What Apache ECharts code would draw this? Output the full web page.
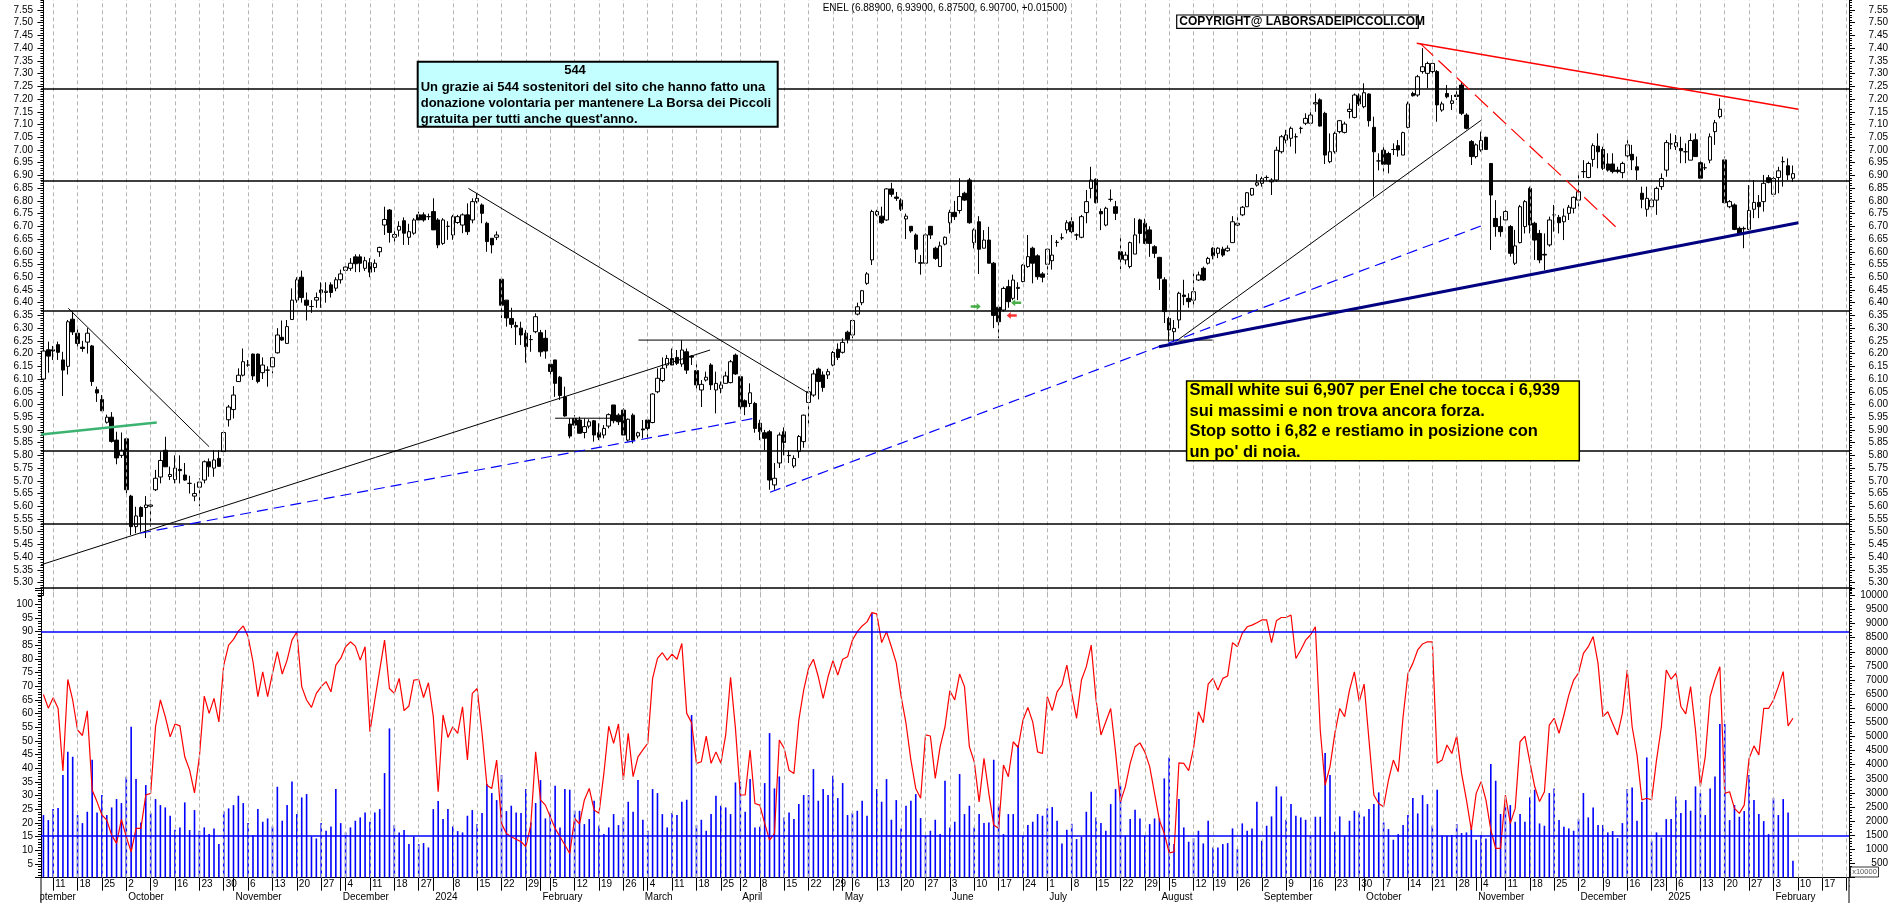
<!DOCTYPE html>
<html><head><meta charset="utf-8">
<script src="https://cdn.jsdelivr.net/npm/echarts@6/dist/echarts.min.js"></script>
<style>html,body{margin:0;padding:0;background:#fff}#c{width:1890px;height:903px}</style>
</head><body><div id="c"></div><script>
// ---------------- DATA ----------------
const holidays = ['2023-12-25','2023-12-26','2024-01-01','2024-03-29','2024-04-01','2024-05-01','2024-08-15','2024-12-24','2024-12-25','2024-12-26','2024-12-31','2025-01-01'];
const firstDay = '2023-09-07';
const slotCount = 371;
const monthNames = ['January','February','March','April','May','June','July','August','September','October','November','December'];

// [open, close, low, high]
const candles = [
[6.10,6.21,6.085,6.225],[6.215,6.19,6.125,6.247],[6.215,6.21,6.175,6.23],[6.235,6.205,6.175,6.247],[6.175,6.135,6.033,6.207],
[6.15,6.325,6.118,6.332],[6.335,6.285,6.273,6.365],[6.28,6.24,6.214,6.295],[6.225,6.22,6.207,6.25],[6.245,6.28,6.20,6.30],
[6.23,6.09,6.073,6.234],[6.058,6.045,6.01,6.07],[6.02,5.975,5.975,6.037],[5.93,5.95,5.925,5.96],[5.95,5.855,5.85,5.97],
[5.86,5.79,5.765,5.893],[5.80,5.82,5.79,5.89],[5.865,5.665,5.65,5.87],[5.64,5.52,5.487,5.645],[5.52,5.562,5.494,5.598],
[5.595,5.56,5.50,5.60],[5.595,5.605,5.475,5.64],[5.60,5.605,5.52,5.625],[5.665,5.71,5.66,5.743],[5.715,5.78,5.69,5.815],
[5.82,5.755,5.755,5.873],[5.717,5.725,5.703,5.756],[5.705,5.75,5.69,5.80],[5.745,5.74,5.69,5.80],[5.723,5.703,5.70,5.77],
[5.69,5.69,5.65,5.72],[5.64,5.65,5.62,5.69],[5.675,5.695,5.60,5.71],[5.703,5.775,5.69,5.78],[5.775,5.755,5.716,5.788],
[5.75,5.782,5.716,5.82],[5.788,5.757,5.756,5.82],[5.815,5.89,5.80,5.897],[5.94,5.99,5.913,5.998],[5.98,6.037,5.945,6.072],
[6.09,6.115,6.09,6.142],[6.115,6.168,6.11,6.22],[6.155,6.155,6.148,6.175],[6.198,6.112,6.096,6.20],[6.198,6.09,6.083,6.20],
[6.125,6.155,6.10,6.185],[6.135,6.135,6.07,6.15],[6.148,6.184,6.122,6.195],[6.203,6.273,6.20,6.30],[6.264,6.253,6.25,6.33],
[6.24,6.306,6.24,6.332],[6.334,6.41,6.332,6.456],[6.41,6.49,6.40,6.50],[6.50,6.42,6.40,6.526],[6.41,6.39,6.33,6.44],
[6.385,6.385,6.36,6.41],[6.41,6.42,6.38,6.44],[6.45,6.44,6.38,6.48],[6.44,6.445,6.40,6.48],[6.47,6.44,6.42,6.48],
[6.457,6.49,6.445,6.50],[6.49,6.513,6.475,6.53],[6.527,6.54,6.515,6.555],[6.535,6.555,6.525,6.575],[6.58,6.553,6.52,6.59],
[6.58,6.555,6.52,6.59],[6.535,6.565,6.525,6.58],[6.557,6.52,6.50,6.575],[6.538,6.555,6.52,6.57],[6.60,6.617,6.58,6.62],
[6.705,6.727,6.666,6.777],[6.764,6.676,6.636,6.768],[6.657,6.668,6.627,6.69],[6.685,6.70,6.66,6.72],[6.722,6.673,6.627,6.735],
[6.657,6.679,6.627,6.71],[6.673,6.725,6.667,6.732],[6.745,6.725,6.718,6.758],[6.745,6.725,6.718,6.755],[6.738,6.738,6.725,6.75],
[6.758,6.686,6.686,6.81],[6.725,6.627,6.614,6.732],[6.633,6.725,6.627,6.732],[6.70,6.70,6.647,6.72],[6.666,6.738,6.647,6.745],
[6.715,6.738,6.71,6.745],[6.705,6.745,6.673,6.751],[6.745,6.679,6.666,6.79],[6.725,6.797,6.712,6.81],[6.797,6.81,6.79,6.83],
[6.784,6.751,6.712,6.79],[6.712,6.64,6.60,6.718],[6.653,6.627,6.594,6.653],[6.657,6.666,6.646,6.68],[6.492,6.39,6.34,6.495],
[6.41,6.34,6.306,6.41],[6.338,6.315,6.30,6.38],[6.31,6.305,6.234,6.325],[6.30,6.273,6.234,6.325],[6.28,6.227,6.164,6.293],
[6.255,6.255,6.207,6.273],[6.286,6.345,6.28,6.358],[6.282,6.207,6.188,6.293],[6.26,6.21,6.18,6.293],[6.158,6.13,6.116,6.175],
[6.175,6.083,6.03,6.175],[6.107,6.035,6.018,6.112],[6.03,5.955,5.952,6.07],[5.923,5.876,5.867,5.945],[5.945,5.919,5.906,5.958],
[5.939,5.887,5.887,5.952],[5.89,5.913,5.867,5.945],[5.915,5.932,5.906,5.942],[5.936,5.88,5.854,5.939],[5.889,5.871,5.86,5.926],
[5.88,5.906,5.867,5.919],[5.915,5.96,5.906,5.965],[5.998,5.936,5.926,5.998],[5.958,5.932,5.919,5.965],[5.978,5.88,5.88,5.985],
[5.86,5.942,5.854,5.945],[5.958,5.86,5.847,5.965],[5.876,5.889,5.867,5.893],[5.904,5.90,5.867,5.939],[5.939,5.906,5.867,5.945],
[5.929,6.041,5.926,6.044],[6.05,6.103,6.044,6.142],[6.094,6.142,6.087,6.185],[6.155,6.181,6.142,6.194],[6.181,6.155,6.155,6.22],
[6.185,6.162,6.155,6.214],[6.159,6.214,6.148,6.253],[6.207,6.135,6.12,6.22],[6.19,6.186,6.155,6.194],[6.133,6.077,6.05,6.162],
[6.057,6.079,5.99,6.096],[6.096,6.107,6.09,6.129],[6.155,6.077,6.057,6.162],[6.057,6.083,5.965,6.129],[6.063,6.077,6.044,6.09],
[6.083,6.112,6.083,6.129],[6.086,6.168,6.083,6.175],[6.194,6.12,6.116,6.20],[6.109,5.991,5.965,6.116],[6.015,5.991,5.958,6.02],
[6.004,6.046,5.99,6.083],[6.004,5.906,5.889,6.01],[5.926,5.893,5.86,5.94],[5.889,5.867,5.82,5.90],[5.893,5.703,5.665,5.90],
[5.684,5.71,5.665,5.77],[5.77,5.88,5.75,5.89],[5.893,5.851,5.80,5.91],[5.80,5.799,5.77,5.82],[5.758,5.788,5.75,5.80],
[5.815,5.874,5.79,5.88],[5.854,5.958,5.83,5.96],[6.008,6.05,5.92,6.07],[6.037,6.12,6.03,6.135],[6.139,6.09,6.02,6.145],
[6.116,6.067,6.05,6.13],[6.116,6.129,6.10,6.14],[6.155,6.204,6.15,6.21],[6.217,6.185,6.175,6.24],[6.205,6.244,6.20,6.26],
[6.284,6.256,6.24,6.29],[6.273,6.33,6.26,6.335],[6.355,6.384,6.35,6.40],[6.40,6.447,6.39,6.45],[6.476,6.513,6.47,6.52],
[6.568,6.758,6.548,6.765],[6.745,6.758,6.74,6.765],[6.74,6.714,6.71,6.777],[6.725,6.847,6.722,6.85],[6.847,6.826,6.816,6.871],
[6.815,6.81,6.80,6.835],[6.803,6.767,6.76,6.81],[6.729,6.74,6.65,6.75],[6.70,6.682,6.675,6.70],[6.666,6.61,6.557,6.672],
[6.557,6.555,6.51,6.587],[6.555,6.666,6.555,6.672],[6.70,6.666,6.65,6.70],[6.614,6.574,6.568,6.62],[6.542,6.623,6.542,6.64],
[6.63,6.657,6.625,6.66],[6.714,6.755,6.672,6.765],[6.755,6.738,6.725,6.80],[6.762,6.817,6.75,6.889],[6.83,6.803,6.80,6.836],
[6.882,6.714,6.71,6.89],[6.636,6.686,6.613,6.692],[6.718,6.61,6.513,6.74],[6.614,6.646,6.614,6.685],[6.646,6.555,6.555,6.698],
[6.555,6.35,6.30,6.56],[6.382,6.325,6.26,6.385],[6.371,6.456,6.365,6.463],[6.463,6.404,6.38,6.49],[6.417,6.489,6.41,6.51],
[6.456,6.46,6.41,6.48],[6.483,6.548,6.48,6.551],[6.542,6.581,6.537,6.666],[6.614,6.555,6.476,6.62],[6.584,6.502,6.49,6.59],
[6.513,6.50,6.48,6.52],[6.551,6.61,6.51,6.614],[6.565,6.587,6.53,6.666],[6.637,6.637,6.62,6.646],[6.655,6.655,6.646,6.672],
[6.686,6.714,6.672,6.724],[6.718,6.679,6.672,6.751],[6.666,6.666,6.646,6.672],[6.657,6.738,6.653,6.745],[6.754,6.797,6.712,6.843],
[6.849,6.882,6.81,6.934],[6.885,6.793,6.79,6.888],[6.758,6.749,6.685,6.77],[6.705,6.771,6.70,6.777],[6.806,6.806,6.797,6.845],
[6.777,6.751,6.725,6.80],[6.60,6.571,6.531,6.657],[6.568,6.587,6.55,6.60],[6.542,6.636,6.535,6.64],[6.591,6.666,6.591,6.732],
[6.725,6.672,6.633,6.73],[6.712,6.633,6.63,6.73],[6.686,6.633,6.58,6.70],[6.62,6.594,6.575,6.626],[6.578,6.496,6.45,6.58],
[6.49,6.365,6.32,6.50],[6.338,6.293,6.247,6.345],[6.286,6.299,6.247,6.332],[6.332,6.437,6.299,6.443],[6.43,6.424,6.39,6.49],
[6.417,6.404,6.38,6.437],[6.41,6.443,6.38,6.515],[6.489,6.509,6.485,6.522],[6.535,6.489,6.485,6.542],[6.555,6.574,6.55,6.58],
[6.614,6.584,6.57,6.618],[6.594,6.614,6.575,6.618],[6.61,6.587,6.58,6.62],[6.604,6.614,6.60,6.625],[6.636,6.718,6.636,6.74],
[6.705,6.712,6.70,6.737],[6.745,6.775,6.74,6.78],[6.777,6.832,6.777,6.835],[6.823,6.849,6.82,6.85],[6.862,6.871,6.856,6.905],
[6.869,6.888,6.856,6.895],[6.892,6.892,6.88,6.90],[6.875,6.882,6.823,6.889],[6.882,6.999,6.875,7.013],[6.993,7.052,6.986,7.059],
[7.039,7.059,7.026,7.079],[7.046,7.085,7.013,7.092],[7.052,7.052,6.986,7.065],[7.085,7.085,7.065,7.092],[7.105,7.124,7.098,7.144],
[7.105,7.137,7.098,7.15],[7.181,7.186,7.15,7.222],[7.197,7.094,7.092,7.203],[7.144,6.98,6.945,7.15],[6.954,6.993,6.948,7.065],
[6.993,7.065,6.986,7.072],[7.072,7.115,7.065,7.118],[7.069,7.102,7.065,7.111],[7.151,7.16,7.124,7.183],[7.128,7.216,7.124,7.222],
[7.213,7.181,7.173,7.222],[7.17,7.225,7.164,7.262],[7.22,7.115,7.092,7.222],[7.089,6.993,6.817,7.131],[6.957,6.957,6.92,6.987],
[6.999,6.944,6.908,7.013],[6.986,6.944,6.908,6.993],[7.002,7.002,6.98,7.026],[7.017,7.00,6.974,7.039],[6.98,7.068,6.98,7.072],
[7.089,7.181,7.085,7.19],[7.222,7.213,7.21,7.229],[7.216,7.288,7.209,7.295],[7.308,7.327,7.30,7.40],[7.301,7.34,7.242,7.347],
[7.308,7.34,7.288,7.347],[7.308,7.177,7.111,7.314],[7.157,7.181,7.15,7.19],[7.222,7.209,7.203,7.255],[7.183,7.193,7.157,7.216],
[7.216,7.21,7.196,7.249],[7.255,7.144,7.137,7.268],[7.137,7.085,7.081,7.144],[7.033,6.974,6.941,7.039],[6.974,7.02,6.967,7.026],
[7.00,7.037,6.993,7.072],[7.05,7.002,7.00,7.052],[6.947,6.823,6.607,6.947],[6.731,6.699,6.659,6.803],[6.699,6.679,6.659,6.74],
[6.725,6.758,6.712,6.777],[6.699,6.594,6.581,6.705],[6.555,6.623,6.548,6.686],[6.636,6.777,6.633,6.784],[6.699,6.797,6.672,6.803],
[6.849,6.705,6.672,6.856],[6.712,6.646,6.568,6.718],[6.672,6.568,6.555,6.686],[6.59,6.587,6.528,6.672],[6.627,6.725,6.62,6.738],
[6.745,6.745,6.679,6.784],[6.735,6.714,6.672,6.745],[6.718,6.74,6.646,6.77],[6.751,6.775,6.725,6.784],[6.771,6.814,6.751,6.817],
[6.803,6.836,6.771,6.908],[6.915,6.915,6.89,6.96],[6.892,6.947,6.889,6.954],[6.963,7.017,6.934,7.026],[7.015,6.993,6.928,7.065],
[7.002,6.928,6.921,7.013],[6.945,6.921,6.915,6.987],[6.945,6.915,6.908,6.987],[6.921,6.915,6.908,6.934],[6.911,6.947,6.889,6.954],
[6.977,7.02,6.961,7.052],[6.983,6.961,6.921,7.02],[6.934,6.921,6.882,6.974],[6.83,6.806,6.771,6.856],[6.767,6.81,6.738,6.856],
[6.777,6.803,6.771,6.81],[6.803,6.849,6.745,6.856],[6.856,6.888,6.843,6.908],[6.921,7.029,6.895,7.039],[7.024,7.024,7.003,7.065],
[7.013,7.029,7.00,7.059],[7.006,6.997,6.948,7.052],[6.993,6.993,6.948,7.026],[6.96,7.037,6.96,7.065],[7.04,6.974,6.974,7.065],
[6.95,6.889,6.882,6.961],[6.93,6.93,6.921,6.947],[6.96,7.052,6.948,7.065],[7.072,7.107,7.02,7.118],[7.131,7.16,7.124,7.203],
[6.961,6.793,6.79,6.974],[6.777,6.797,6.771,6.803],[6.784,6.688,6.685,6.79],[6.692,6.672,6.672,6.699],[6.692,6.69,6.614,6.699],
[6.688,6.762,6.685,6.862],[6.767,6.794,6.732,6.882],[6.794,6.777,6.732,6.823],[6.797,6.869,6.758,6.902],[6.891,6.873,6.869,6.902],
[6.826,6.888,6.817,6.895],[6.892,6.918,6.83,6.934],[6.954,6.954,6.856,6.974],[6.938,6.902,6.882,6.967],[6.889,6.907,6.875,6.939]
];

const oscillator = [
67,62,65.8,62,39,72.5,65,54,52,61,32,27.7,22.9,21,15.5,12.5,21.3,14.9,9.4,18,
18,30.2,30.8,55.2,65,58.9,51.5,56.2,55.5,44.2,39.3,31,44.2,66.4,60.1,65.6,57,77.8,85.1,87.2,
90.2,92.1,88.2,79,66.2,75.3,66.2,74.7,82.7,74.5,79.6,86.9,90,69.9,65,62.3,67.4,69.9,71.7,68,
77.8,80.2,84.5,86.3,84.7,79.6,84.5,53.4,65,75.9,86.9,69.2,67.4,72.9,61.1,62.8,72.3,72.5,65.9,71.3,
58.9,31.4,59.5,51.3,55.2,52.8,62.5,43,67.4,69.2,52.8,33.8,32.6,43,19.8,16.1,14.9,14,13.1,11.3,
19.2,46,28.4,26.5,22.2,18,14.9,11.9,8.8,21.6,19.6,28.4,32.6,24.7,23.5,38.1,55.4,49.1,56.2,35.7,
52.8,36.9,44.2,46.7,49.1,72.9,80.2,82.3,79.6,81.8,79.9,85.7,60.1,56.7,41.8,42.4,51.8,41.8,46,41.8,
52.2,73.3,54.6,30.2,30.2,46.7,27.1,26.5,19.8,13.7,16.1,50.3,47.3,39.3,38.1,57.6,68.6,76.6,79.9,73.5,
65.6,73.5,79.4,74.1,79.9,80.8,86.9,90,92.1,93.6,97,96.5,86,90,84.5,78.6,66.2,56.4,43,32.6,
29,52.2,51.8,36.3,47.9,55.2,68.4,65,74.5,69.9,47.9,42.4,27.7,43.6,30.8,19.2,18,41.2,36.9,49.7,
47.6,57.6,62.3,57,46,45.4,66.2,61.1,68,70.5,77.8,67.4,58.3,72.3,77.2,85.1,65,52.2,57,61.9,
46,27.7,33.2,41.8,47.9,49.3,46,40.6,30.8,21,16.1,9,9.4,42,41.8,39.1,47.3,60.7,56.7,70.8,
72.9,68.6,72.9,73.8,86,84.5,89.4,91.8,92.4,93.3,94.3,94.3,86,94,95.2,95.2,96.1,80.2,83.3,86.9,
88.8,91.8,54,33.8,40.6,52.8,61.9,58.9,68.6,75.3,64.4,70.8,50.3,30.2,27.1,25.9,35.7,43,38.7,58.9,
74.7,78.4,83.3,85.5,86.3,86.3,41.8,43,48.5,45.4,51.8,38.1,28.4,17.4,30.8,35.1,28.4,17.4,10.7,10.7,
30.2,19.8,25.3,49.7,51.8,42.4,33.3,27.8,31.4,55.8,58.3,52.8,59.5,66.8,72.3,74.8,82.1,84.5,88.2,78.4,
58.9,60.7,56.4,52.2,60.1,76,55.2,44.9,28.4,29,28.4,43,55.2,76,72.6,74.8,62.6,59.9,69.9,54,
33.3,44.2,66.2,72.3,77.2,30.8,31.4,25.3,23.5,26.5,43.6,48.2,44.9,61.9,61.9,65,69.9,75.4,55.5,58.3
];

const volume = [
2213,2035,2425,2461,3630,4457,4280,2213,1928,2331,4174,2307,2922,2213,2484,2780,2638,3571,5344,3489,
1952,3276,2284,2780,2567,2484,2189,1693,1775,2662,1681,2390,1657,1775,1539,1740,1184,2343,2449,2567,
2898,2638,1928,1503,2425,1976,2094,1811,3217,2012,2567,3406,2248,2839,2957,1456,1385,1928,1657,1811,
3134,1928,1598,1775,2012,2130,2307,1976,2307,2425,3701,5285,1858,1598,1681,1184,1456,1184,1220,1066,
2425,2709,2071,2425,1811,1645,1598,2189,2390,1893,2284,3311,2993,2744,3630,2355,2544,2307,2284,3134,
1952,2638,3453,2094,2307,3252,1775,3134,3111,2366,2366,1893,2071,2721,1834,1539,1775,2248,1858,2130,
2685,2331,3453,2047,1657,3134,2993,2248,1775,2284,2213,2685,2756,5758,1858,2047,1657,2248,2898,2544,
2484,2248,3370,3394,2331,3489,1775,1799,3347,5119,3158,3583,2130,2307,2071,2603,2922,2922,3843,2721,
3134,2922,3607,2815,3347,2213,2284,2366,2721,2189,9373,3134,2685,3489,2047,2744,1740,2543,2720,2957,
2106,1480,1657,2047,1539,3430,1775,1976,3666,2248,2543,1775,2248,1929,1952,4174,2543,1539,2248,2248,
4694,1480,1858,1976,2248,2189,2449,2496,2012,1208,1693,1905,1362,1444,2331,3040,2130,1929,1657,2602,
3134,3252,1480,2071,2401,2094,1480,1893,2094,2094,3512,4256,1184,2780,1775,1267,1385,1657,1208,2012,
1066,1066,1184,1220,1740,1007,1917,1657,1740,2685,1303,1834,2165,3228,2874,2047,2602,2189,2130,2047,
1456,2153,2153,4410,3630,1622,2165,1480,2012,2366,2307,2165,2425,2602,3016,1952,1716,1338,1539,1858,
2213,2815,2272,2922,2602,1834,3111,1480,1480,1503,1893,1574,1598,1740,1338,1503,1385,4020,3430,2250,
2500,2567,1976,2248,1976,2838,3111,1916,1834,2993,3158,2035,1798,1740,1657,2071,2993,2130,2485,1858,
1858,1598,1645,1397,1928,3134,3193,2012,2685,4257,1302,1598,1420,2071,2071,2874,2284,2744,2366,3229,
2993,2213,3158,3584,5438,5438,2035,2567,2154,2355,3630,2744,2248,1999,1539,2815,2213,2780,2307,594
];

// horizontal support / resistance levels (price)
const levels = [7.235, 6.882, 6.37, 5.824, 5.533];
// oscillator pane reference levels
const oscLevels = [90, 15.45];
// drawn trend lines: [[slot, price],[slot, price]]
const trendBlack = [
  [[-0.5,5.370],[136.8,6.214]],
  [[87.2,6.849],[157.0,6.044]],
  [[5.1,6.378],[34.0,5.834]],
  [[232.3,6.247],[295.1,7.118]],
  [[105,5.946],[116.9,5.946]],
  [[122.1,6.253],[239.9,6.253]]
];
const trendGreen = [[-0.5,5.882],[23.25,5.929]];
const trendBlueDash = [
  [[19.8,5.494],[146.0,5.946]],
  [[149.1,5.655],[295.5,6.705]]
];
const trendNavy = [[228.9,6.227],[360.1,6.714]];
const trendRed = [[281.8,7.419],[360.1,7.16]];
const trendRedDash = [[282.5,7.419],[322.8,6.695]];
const arrowsGreenRight = [[191.3,6.385]];
const arrowsGreenLeft = [[199.6,6.40]];
const arrowsRedLeft = [[198.7,6.35]];

// ---------------- CALENDAR ----------------
const dates = [];
(function(){
  const hs = new Set(holidays);
  let t = Date.parse(firstDay + 'T00:00:00Z');
  while (dates.length < slotCount) {
    const d = new Date(t); const wd = d.getUTCDay();
    const s = d.toISOString().slice(0,10);
    if (wd > 0 && wd < 6 && !hs.has(s)) dates.push(s);
    t += 86400000;
  }
})();
function mondayOf(s){ const d = new Date(s+'T00:00:00Z'); return d.getTime() - ((d.getUTCDay()+6)%7)*86400000; }
const weekStart = dates.map((s,i)=>{
  if (i === 0) return false;
  const m = mondayOf(s);
  if (m === mondayOf(dates[i-1])) return false;
  for (let k=0;k<5;k++){ const dd = new Date(m+k*86400000); if (dd.getUTCMonth()===0 && dd.getUTCDate()===1) return false; }
  return true;
});
const monthStart = dates.map((s,i)=> i>0 && s.slice(5,7)!==dates[i-1].slice(5,7));
const weekIdx = []; weekStart.forEach((w,i)=>{ if(w) weekIdx.push(i); });

// ---------------- CHART ----------------
const FONT = '"Liberation Sans", Arial, sans-serif';
const chart = echarts.init(document.getElementById('c'), null, {width:1890, height:903});
const gridLineMark = {
  silent:true, symbol:['none','none'], label:{show:false}, emphasis:{disabled:true},
  lineStyle:{color:'#b4b4b4', type:[4,3], width:1},
  data: weekIdx.map(i=>({xAxis: dates[i]}))
};
function seg(data, style, z){ return {type:'line', xAxisIndex:3, yAxisIndex:0, data, symbol:'none', silent:true, lineStyle:style, z:z||5, animation:false}; }
const arrowPath = 'path://M0,35 L60,35 L60,8 L100,50 L60,92 L60,65 L0,65 Z';

const series = [
  {type:'line', xAxisIndex:0, yAxisIndex:0, data:[], z:1, markLine: gridLineMark},
  {type:'candlestick', xAxisIndex:0, yAxisIndex:0, data:candles, barWidth:4, z:3,
   itemStyle:{color:'#ffffff', color0:'#000000', borderColor:'#000', borderColor0:'#000', borderColorDoji:'#000', borderWidth:1},
   markLine:{silent:true, symbol:['none','none'], label:{show:false}, emphasis:{disabled:true},
     lineStyle:{color:'#000', type:'solid', width:1.5}, data: levels.map(v=>({yAxis:v}))}
  }
];
trendBlack.forEach(d=>series.push(seg(d,{color:'#000', width:1})));
series.push(seg(trendGreen,{color:'#3cb371', width:2.6}));
trendBlueDash.forEach(d=>series.push(seg(d,{color:'#0000ff', width:1.2, type:[11,6]})));
series.push(seg(trendNavy,{color:'#000080', width:3.2}, 6));
series.push(seg(trendRed,{color:'#ff0000', width:1.5}));
series.push(seg(trendRedDash,{color:'#ff0000', width:1.2, type:[18,7]}));
series.push({type:'scatter', xAxisIndex:3, yAxisIndex:0, data:arrowsGreenRight, symbol:arrowPath, symbolSize:[10,7], itemStyle:{color:'#1a9a1a'}, silent:true, z:7});
series.push({type:'scatter', xAxisIndex:3, yAxisIndex:0, data:arrowsGreenLeft, symbol:arrowPath, symbolRotate:180, symbolSize:[10,7], itemStyle:{color:'#1a9a1a'}, silent:true, z:7});
series.push({type:'scatter', xAxisIndex:3, yAxisIndex:0, data:arrowsRedLeft, symbol:arrowPath, symbolRotate:180, symbolSize:[10,7], itemStyle:{color:'#ff0000'}, silent:true, z:7});
// lower pane
series.push({type:'line', xAxisIndex:1, yAxisIndex:2, data:[], z:1, markLine: gridLineMark});
series.push({type:'bar', xAxisIndex:1, yAxisIndex:3, data:volume, barWidth:1.6, itemStyle:{color:'#0000ff'}, silent:true, z:2});
series.push({type:'line', xAxisIndex:1, yAxisIndex:2, data:oscillator, symbol:'none', silent:true, z:4,
  lineStyle:{color:'#ff0000', width:1.2},
  markLine:{silent:true, symbol:['none','none'], label:{show:false}, emphasis:{disabled:true},
    lineStyle:{color:'#0000ff', type:'solid', width:1.5}, data: oscLevels.map(v=>({yAxis:v}))}
});

const labelBase = {fontSize:10, fontFamily:FONT, color:'#000'};
const tickBase = {show:true, lineStyle:{color:'#000', width:1}};
const option = {
  animation:false,
  backgroundColor:'#ffffff',
  textStyle:{fontFamily:FONT},
  grid:[
    {left:41, right:41, top:-2.725, height:598.075, containLabel:false, outerBoundsMode:'none'},
    {left:41, right:41, top:588, height:289.5, containLabel:false, outerBoundsMode:'none'}
  ],
  xAxis:[
    {type:'category', gridIndex:0, data:dates, boundaryGap:true, axisLine:{show:false}, axisTick:{show:false}, axisLabel:{show:false}, splitLine:{show:false}},
    {type:'category', gridIndex:1, data:dates, boundaryGap:true, position:'bottom',
     axisLine:{show:true, lineStyle:{color:'#000', width:1}},
     axisTick:Object.assign({}, tickBase, {alignWithLabel:true, interval:(i)=>weekStart[i], length:13.2}),
     axisLabel:Object.assign({}, labelBase, {interval:(i)=>weekStart[i], formatter:(v)=>String(parseInt(v.slice(8),10)), align:'left', padding:[0,0,0,2], margin:2}),
     splitLine:{show:false}},
    {type:'category', gridIndex:1, data:dates, boundaryGap:true, position:'bottom', offset:13.2,
     axisLine:{show:true, lineStyle:{color:'#000', width:1}},
     axisTick:Object.assign({}, tickBase, {alignWithLabel:true, interval:(i)=>monthStart[i], length:13}),
     axisLabel:Object.assign({}, labelBase, {interval:(i)=>monthStart[i], formatter:(v)=>{ const m = parseInt(v.slice(5,7),10); return m===1 ? v.slice(0,4) : monthNames[m-1]; }, align:'left', padding:[0,0,0,2], margin:2}),
     splitLine:{show:false}},
    {type:'value', gridIndex:0, min:-0.5, max:slotCount-0.5, show:false},
    {type:'category', gridIndex:1, data:dates, boundaryGap:true, position:'bottom',
     axisLine:{show:false}, axisLabel:{show:false},
     axisTick:Object.assign({}, tickBase, {alignWithLabel:true, interval:(i)=>monthStart[i], length:13.2}),
     splitLine:{show:false}}
  ],
  yAxis:[
    {type:'value', gridIndex:0, position:'left', min:5.25, max:7.60, interval:0.05,
     axisLine:{show:true, lineStyle:{color:'#000', width:1}}, axisTick:Object.assign({}, tickBase, {length:6}),
     minorTick:{show:true, splitNumber:5, length:3, lineStyle:{color:'#000'}}, splitLine:{show:false},
     axisLabel:Object.assign({}, labelBase, {margin:8, formatter:(v)=> (v<5.295||v>7.555)?'':v.toFixed(2)})},
    {type:'value', gridIndex:0, position:'right', min:5.25, max:7.60, interval:0.05,
     axisLine:{show:true, lineStyle:{color:'#000', width:1}}, axisTick:Object.assign({}, tickBase, {length:6}),
     minorTick:{show:true, splitNumber:5, length:3, lineStyle:{color:'#000'}}, splitLine:{show:false},
     axisLabel:Object.assign({}, labelBase, {margin:39, align:'right', formatter:(v)=> (v<5.295||v>7.555)?'':v.toFixed(2)})},
    {type:'value', gridIndex:1, position:'left', min:0, max:106, interval:5,
     axisLine:{show:true, lineStyle:{color:'#000', width:1}}, axisTick:Object.assign({}, tickBase, {length:6}),
     minorTick:{show:true, splitNumber:5, length:3, lineStyle:{color:'#000'}}, splitLine:{show:false},
     axisLabel:Object.assign({}, labelBase, {margin:8, formatter:(v)=> (v<5||v>100)?'':String(v)})},
    {type:'value', gridIndex:1, position:'right', min:0, max:10262, interval:500,
     axisLine:{show:true, lineStyle:{color:'#000', width:1}}, axisTick:Object.assign({}, tickBase, {length:6}),
     minorTick:{show:true, splitNumber:5, length:3, lineStyle:{color:'#000'}}, splitLine:{show:false},
     axisLabel:Object.assign({}, labelBase, {margin:39, align:'right', formatter:(v)=> (v<500||v>10000)?'':String(v)})}
  ],
  series,
  graphic:[
    {type:'line', shape:{x1:41,y1:588,x2:1849,y2:588}, style:{stroke:'#000', lineWidth:1.5}, z:50, silent:true},
    {type:'text', x:27, y:897.5, style:{text:'September', font:'10px '+FONT, fill:'#000', align:'left', verticalAlign:'middle', textAlign:'left', textVerticalAlign:'middle'}, z:50, silent:true},
    {type:'rect', shape:{x:0,y:878.2,width:40.5,height:25}, style:{fill:'#fff'}, z:60, silent:true},
    {type:'rect', shape:{x:1849.5,y:878.2,width:41,height:25}, style:{fill:'#fff'}, z:60, silent:true},
    {type:'line', shape:{x1:41,y1:877.5,x2:41,y2:903}, style:{stroke:'#000', lineWidth:1}, z:61, silent:true},
    {type:'line', shape:{x1:1849,y1:877.5,x2:1849,y2:903}, style:{stroke:'#000', lineWidth:1}, z:61, silent:true},
    // title
    {type:'text', x:822.7, y:8.3, style:{text:'ENEL (6.88900, 6.93900, 6.87500, 6.90700, +0.01500)', font:'10px '+FONT, fill:'#000', align:'left', verticalAlign:'middle', textAlign:'left', textVerticalAlign:'middle'}, z:70, silent:true},
    // copyright
    {type:'rect', shape:{x:1176.7,y:15,width:241.6,height:13.3}, style:{fill:'#fff', stroke:'#000', lineWidth:1.2}, z:70, silent:true},
    {type:'text', x:1179.3, y:21.8, style:{text:'COPYRIGHT@ LABORSADEIPICCOLI.COM', font:'bold 12px '+FONT, fill:'#000', align:'left', verticalAlign:'middle', textAlign:'left', textVerticalAlign:'middle'}, z:71, silent:true},
    // cyan box
    {type:'rect', shape:{x:417.7,y:61.7,width:360,height:65}, style:{fill:'#c4ffff', stroke:'#000', lineWidth:2}, z:70, silent:true},
    {type:'text', x:575, y:70.3, style:{text:'544', font:'bold 13px '+FONT, fill:'#000', align:'center', verticalAlign:'middle', textAlign:'center', textVerticalAlign:'middle'}, z:71, silent:true},
    {type:'text', x:420.7, y:87.3, style:{text:'Un grazie ai 544 sostenitori del sito che hanno fatto una', font:'bold 13px '+FONT, fill:'#000', align:'left', verticalAlign:'middle', textAlign:'left', textVerticalAlign:'middle'}, z:71, silent:true},
    {type:'text', x:420.7, y:103.3, style:{text:'donazione volontaria per mantenere La Borsa dei Piccoli', font:'bold 13px '+FONT, fill:'#000', align:'left', verticalAlign:'middle', textAlign:'left', textVerticalAlign:'middle'}, z:71, silent:true},
    {type:'text', x:420.7, y:119.3, style:{text:"gratuita per tutti anche quest'anno.", font:'bold 13px '+FONT, fill:'#000', align:'left', verticalAlign:'middle', textAlign:'left', textVerticalAlign:'middle'}, z:71, silent:true},
    // yellow box
    {type:'rect', shape:{x:1186.6,y:381,width:392.7,height:79.7}, style:{fill:'#ffff00', stroke:'#000', lineWidth:1.5}, z:70, silent:true},
    {type:'text', x:1189.5, y:390.5, style:{text:'Small white sui 6,907 per Enel che tocca i 6,939', font:'bold 16.5px '+FONT, fill:'#000', align:'left', verticalAlign:'middle', textAlign:'left', textVerticalAlign:'middle'}, z:71, silent:true},
    {type:'text', x:1189.5, y:411, style:{text:'sui massimi e non trova ancora forza.', font:'bold 16.5px '+FONT, fill:'#000', align:'left', verticalAlign:'middle', textAlign:'left', textVerticalAlign:'middle'}, z:71, silent:true},
    {type:'text', x:1189.5, y:431.5, style:{text:'Stop sotto i 6,82 e restiamo in posizione con', font:'bold 16.5px '+FONT, fill:'#000', align:'left', verticalAlign:'middle', textAlign:'left', textVerticalAlign:'middle'}, z:71, silent:true},
    {type:'text', x:1189.5, y:452, style:{text:"un po' di noia.", font:'bold 16.5px '+FONT, fill:'#000', align:'left', verticalAlign:'middle', textAlign:'left', textVerticalAlign:'middle'}, z:71, silent:true},
    // x10000 unit box
    {type:'rect', shape:{x:1850.5,y:867,width:28,height:10}, style:{fill:'#fff', stroke:'#000', lineWidth:0.8}, z:70, silent:true},
    {type:'text', x:1864.5, y:872.2, style:{text:'x10000', font:'7.5px '+FONT, fill:'#555', align:'center', verticalAlign:'middle', textAlign:'center', textVerticalAlign:'middle'}, z:71, silent:true}
  ]
};
chart.setOption(option);
</script></body></html>
